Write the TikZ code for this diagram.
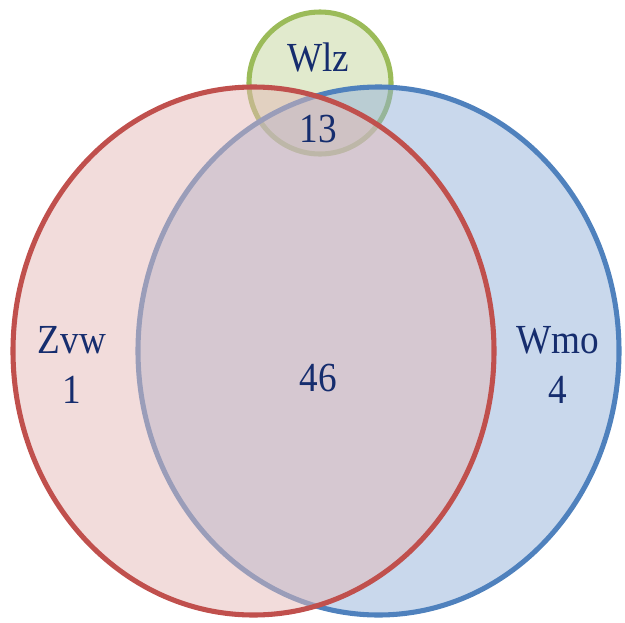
\documentclass[tikz,border=0pt]{standalone}
\usepackage{fontspec}
\setmainfont{Liberation Serif}
\usetikzlibrary{positioning}
\definecolor{setred}{RGB}{192,80,77}
\definecolor{setblue}{RGB}{79,129,189}
\definecolor{setgreen}{RGB}{155,187,89}
\definecolor{redtint}{RGB}{229,185,183}
\definecolor{bluetint}{RGB}{147,177,217}
\definecolor{greentint}{RGB}{195,213,155}
\definecolor{labelnavy}{RGB}{22,45,110}
\tikzset{
   setline/.style={line width=3.8pt, fill opacity=0.5},
   setlabel/.style={text=labelnavy, inner sep=0pt, text height=20.5pt, text depth=0pt,
                    font=\fontsize{31}{37}\selectfont}
}
\newcommand{\narrow}[1]{\scalebox{0.9}[1]{#1}}

\begin{document}
\begin{tikzpicture}[x=0.75pt,y=-0.75pt]
  \useasboundingbox (0,0) rectangle (625,622);

  % the three sets, back to front
  \draw[setline, draw=setgreen, fill=greentint] (320,83) circle (71);
  \draw[setline, draw=setblue, fill=bluetint] (378.5,351) ellipse (240.5 and 264);
  \draw[setline, draw=setred, fill=redtint] (253.5,351) ellipse (240.5 and 264);

  % labels
  \node[setlabel] (wlz)    at (318,58)  {\narrow{Wlz}};
  \node[setlabel] (wlzn)   at (318,129) {\narrow{13}};
  \node[setlabel] (zvw)    at (72,340)  {\narrow{Zvw}};
  \node[setlabel] (zvwn)   at (72,390)  {\narrow{1}};
  \node[setlabel] (common) at (318,378) {\narrow{46}};
  \node[setlabel] (wmo)    at (558,340) {\narrow{Wmo}};
  \node[setlabel] (wmon)   at (558,390) {\narrow{4}};
\end{tikzpicture}
\end{document}
